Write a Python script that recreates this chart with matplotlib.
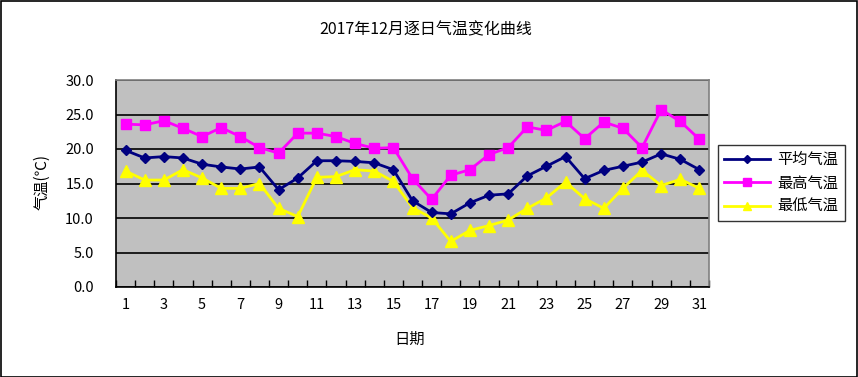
import matplotlib
matplotlib.use("Agg")
import matplotlib.pyplot as plt
from matplotlib.patches import Rectangle
from matplotlib.ticker import FixedLocator, FuncFormatter

plt.rcParams['font.family'] = ['Noto Sans CJK SC', 'DejaVu Sans']

days = list(range(1, 32))
avg_temp = [19.8, 18.7, 18.9, 18.7, 17.8, 17.4, 17.1, 17.4, 14.1, 15.8,
            18.3, 18.3, 18.2, 18.0, 17.0, 12.5, 10.8, 10.6, 12.2, 13.3,
            13.5, 16.1, 17.5, 18.9, 15.7, 16.9, 17.5, 18.1, 19.3, 18.5, 17.0]
max_temp = [23.6, 23.5, 24.1, 23.0, 21.8, 23.1, 21.8, 20.2, 19.4, 22.3,
            22.3, 21.8, 20.8, 20.1, 20.2, 15.7, 12.7, 16.2, 17.0, 19.2,
            20.2, 23.2, 22.7, 24.0, 21.5, 23.9, 23.0, 20.2, 25.7, 24.0, 21.4]
min_temp = [16.8, 15.5, 15.5, 17.0, 15.8, 14.3, 14.3, 15.0, 11.4, 10.2,
            15.9, 16.0, 17.0, 16.8, 15.3, 11.5, 10.0, 6.6, 8.2, 8.9,
            9.7, 11.4, 12.9, 15.2, 12.8, 11.4, 14.3, 16.9, 14.7, 15.6, 14.3]
series_names = ['平均气温', '最高气温', '最低气温']
y_ticks = [0, 5, 10, 15, 20, 25, 30]
x_label_days = list(range(1, 32, 2))

W, H = 858, 377
fig = plt.figure(figsize=(W / 100, H / 100), dpi=100)
fig.patch.set_facecolor('white')
fig.patches.append(Rectangle((0.5 / W, 0.5 / H), 1 - 1.5 / W, 1 - 1.5 / H,
                             transform=fig.transFigure, fill=False,
                             edgecolor='black', linewidth=1.2))

ax = fig.add_axes([116 / W, (H - 287) / H, 593 / W, 207 / H])
ax.set_facecolor('#C0C0C0')

ax.plot(days, avg_temp, color='#000080', marker='D', markersize=5.5,
        linewidth=2, label=series_names[0], zorder=4)
ax.plot(days, max_temp, color='#FF00FF', marker='s', markersize=7.5,
        linewidth=2, label=series_names[1], zorder=3)
ax.plot(days, min_temp, color='#FFFF00', marker='^', markersize=8.5,
        linewidth=2, label=series_names[2], zorder=3)

ax.set_xlim(0.5, 31.5)
ax.set_ylim(0, 30)
ax.yaxis.set_major_locator(FixedLocator(y_ticks))
ax.yaxis.set_major_formatter(FuncFormatter(lambda v, p: f'{v:.1f}'))
ax.grid(axis='y', color='black', linewidth=1.2, zorder=1)
ax.set_axisbelow(True)

ax.xaxis.set_major_locator(FixedLocator(x_label_days))
ax.xaxis.set_minor_locator(FixedLocator([d + 0.5 for d in range(0, 32)]))
ax.tick_params(axis='x', which='major', length=0, pad=8, labelsize=10.5)
ax.tick_params(axis='x', which='minor', direction='in', length=5, width=1, color='black')
ax.tick_params(axis='y', which='major', length=0, pad=16, labelsize=10.5)

for s in ['top', 'right']:
    ax.spines[s].set_color('#808080')
    ax.spines[s].set_linewidth(1.2)
for s in ['left', 'bottom']:
    ax.spines[s].set_color('black')
    ax.spines[s].set_linewidth(1.2)

fig.text(426 / W, 1 - 30 / H, '2017年12月逐日气温变化曲线', ha='center', va='center', fontsize=11.5)
fig.text(42 / W, 1 - 182 / H, '气温(℃)', ha='center', va='center', rotation=90, fontsize=11)
fig.text(410 / W, 1 - 339 / H, '日期', ha='center', va='center', fontsize=11)

leg = ax.legend(loc='upper left', bbox_to_anchor=(718 / W, 1 - 145 / H),
                bbox_transform=fig.transFigure, frameon=True, fancybox=False,
                edgecolor='black', facecolor='white', fontsize=11,
                handlelength=3.0, borderpad=0.4, labelspacing=0.42,
                borderaxespad=0, markerscale=0.75, handletextpad=0.5)
leg.get_frame().set_linewidth(1.0)

fig.savefig('out.png', dpi=100)
